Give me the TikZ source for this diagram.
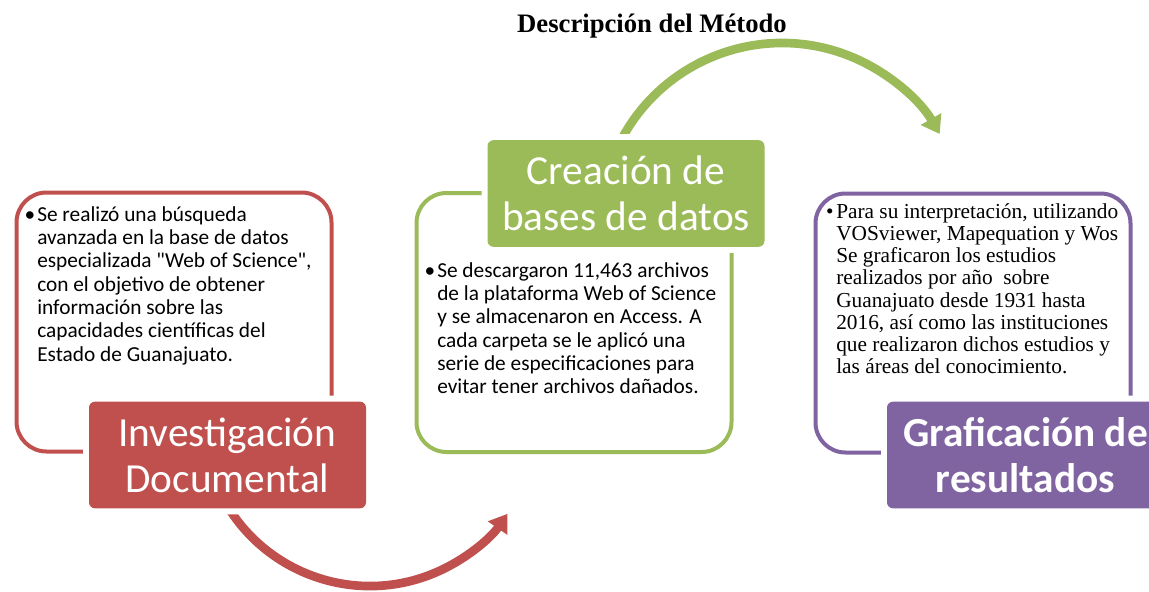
\documentclass[tikz,border=0pt]{standalone}
\usepackage{fontspec}
\setmainfont{Carlito}
\newfontfamily\tnr{Liberation Serif}
\usetikzlibrary{arrows.meta}
\definecolor{cred}{HTML}{C0504D}
\definecolor{cgreen}{HTML}{9BBB59}
\definecolor{cpurple}{HTML}{8064A2}
\begin{document}
\begin{tikzpicture}[x=0.75pt,y=-0.75pt,
 outbox/.style={draw=#1, line width=3pt, rounded corners=22.5pt, minimum width=236.25pt, minimum height=194.25pt, inner sep=0pt},
 fillbox/.style={fill=#1, rounded corners=4.5pt, preaction={draw=white, line width=9pt}, minimum width=207.75pt, minimum height=80pt, inner sep=0pt, text=white, align=center, font=\fontsize{31}{34.5}\selectfont},
 body/.style={anchor=base west, inner sep=0pt},
 flowarc/.style={draw=#1, line width=6.5pt, -{Triangle[width=17pt,length=13pt]}}
]
\useasboundingbox (0,0) rectangle (1149,592);
\clip (0,0) rectangle (1149,592);

% title
\node[anchor=base, inner sep=0pt] (title) at (652,33) {\tnr\bfseries\fontsize{20}{24}\selectfont Descripción del Método};

% arcs
\coordinate (gstart) at (617.1,148.1);
\draw[flowarc=cgreen] (gstart) arc[start angle=155, end angle=30, radius=136.5pt];
\coordinate (rstart) at (218.6,489.6);
\draw[flowarc=cred] (rstart) arc[start angle=205, end angle=325.4, radius=125.25pt];

% outline boxes
\node[outbox=cred] (rout) at (174,322) {};
\node[outbox=cgreen] (gout) at (574,322.5) {};
\node[outbox=cpurple] (pout) at (973,323) {};

% filled boxes
\node[fillbox=cred] (rfill) at (227.5,455) {Investigación\\Documental};
\node[fillbox=cgreen] (gfill) at (626,193.5) {Creación de\\bases de datos};
\node[fillbox=cpurple, font=\fontsize{31}{34.5}\selectfont\bfseries] (pfill) at (1025.5,455) {Graficación de\\resultados};

% body texts
\node[body] (rtext) at (37,221) {\parbox[t]{290pt}{\fontsize{16}{17.5}\selectfont
\makebox[0pt][r]{•\hspace{1.5pt}}Se realizó una búsqueda\\
avanzada en la base de datos\\
especializada {\addfontfeature{Ligatures=TeXOff}"Web of Science"},\\
con el objetivo de obtener\\
información sobre las\\
capacidades científicas del\\
Estado de Guanajuato.}};

\node[body] (gtext) at (437,277) {\parbox[t]{290pt}{\fontsize{16}{17.5}\selectfont
\makebox[0pt][r]{•\hspace{1.5pt}}Se descargaron 11,463 archivos\\
de la plataforma Web of Science\\
y se almacenaron en Access. A\\
cada carpeta se le aplicó una\\
serie de especificaciones para\\
evitar tener archivos dañados.}};

\node[body] (ptext) at (836,218) {\parbox[t]{300pt}{\tnr\fontsize{16}{16.7}\selectfont
\makebox[0pt][r]{•\hspace{2pt}}Para su interpretación, utilizando\\
VOSviewer, Mapequation y Wos\\
Se graficaron los estudios\\
realizados por año\ \ sobre\\
Guanajuato desde 1931 hasta\\
2016, así como las instituciones\\
que realizaron dichos estudios y\\
las áreas del conocimiento.}};
\end{tikzpicture}
\end{document}
